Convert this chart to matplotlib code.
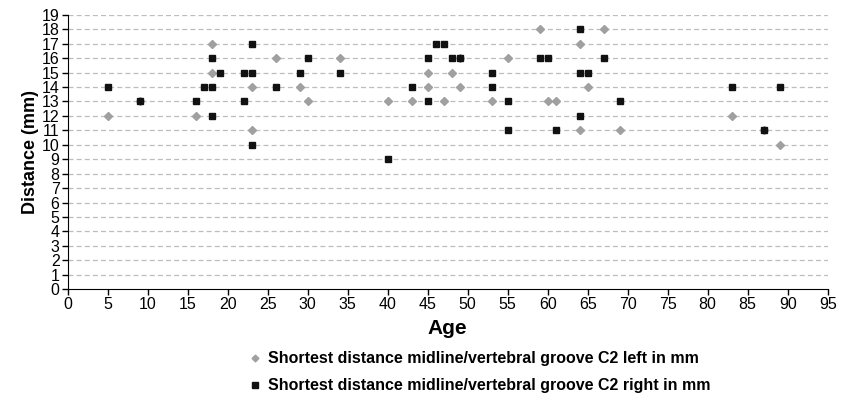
import matplotlib.pyplot as plt

plt.rcParams['font.family'] = ['Liberation Sans', 'DejaVu Sans']

# left side (gray diamonds)
left_age = [5, 9, 16, 18, 18, 23, 23, 26, 29, 30, 34, 40, 43, 45, 45, 47, 48, 49, 49,
            53, 55, 59, 60, 61, 64, 64, 65, 67, 69, 83, 87, 89]
left_mm = [12, 13, 12, 17, 15, 14, 11, 16, 14, 13, 16, 13, 13, 15, 14, 13, 15, 14, 16,
           13, 16, 18, 13, 13, 17, 11, 14, 18, 11, 12, 11, 10]

# right side (black squares)
right_age = [5, 9, 16, 17, 18, 18, 18, 19, 22, 22, 23, 23, 23, 26, 29, 30, 34, 40, 43,
             45, 45, 46, 47, 48, 49, 53, 53, 55, 55, 59, 60, 61, 64, 64, 65, 64, 67,
             69, 83, 87, 89]
right_mm = [14, 13, 13, 14, 16, 14, 12, 15, 15, 13, 17, 15, 10, 14, 15, 16, 15, 9, 14,
            16, 13, 17, 17, 16, 16, 15, 14, 13, 11, 16, 16, 11, 18, 15, 15, 12, 16,
            13, 14, 11, 14]

fig = plt.figure(figsize=(8.48, 4.01), dpi=100)
ax = fig.add_axes([0.080, 0.279, 0.896, 0.684])

for yv in range(1, 20):
    ax.axhline(yv, color='#bdbdbd', lw=0.9, ls=(0, (4, 2.5)), zorder=0)

ax.plot(left_age, left_mm, ls='none', marker='D', ms=4.3, color='#a0a0a0',
        mec='#a0a0a0', label='Shortest distance midline/vertebral groove C2 left in mm')
ax.plot(right_age, right_mm, ls='none', marker='s', ms=4.8, color='#111111',
        mec='#111111', label='Shortest distance midline/vertebral groove C2 right in mm')

ax.set_xlim(0, 95)
ax.set_ylim(0, 19)
ax.set_xticks(range(0, 96, 5))
ax.set_yticks(range(0, 20))
for s in ['top', 'right']:
    ax.spines[s].set_visible(False)
ax.tick_params(direction='out', length=4, width=1, labelsize=11.5, pad=2)
ax.set_xlabel('Age', fontsize=15, fontweight='bold', labelpad=5)
ax.set_ylabel('Distance (mm)', fontsize=13, fontweight='bold', labelpad=2)

fig.legend(loc='upper center', bbox_to_anchor=(0.565, 0.16), ncol=1, frameon=False,
           prop={'weight': 'bold', 'size': 11.5}, handletextpad=0.3, labelspacing=0.75,
           markerscale=0.8, handlelength=1)

fig.savefig('out.png', dpi=100)
